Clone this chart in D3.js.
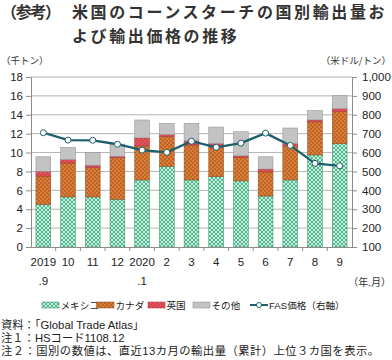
<!DOCTYPE html>
<html><head><meta charset="utf-8">
<script src="https://cdn.jsdelivr.net/npm/d3@7"></script>
<style>
body{margin:0;background:#fff;}
text{font-family:"Liberation Sans","Noto Sans CJK JP",sans-serif;}
.jp{font-family:"Noto Sans CJK JP","Liberation Sans",sans-serif;}
</style></head>
<body><svg id="c" width="392" height="360"></svg>
<script>
const categories = ["2019.9","10","11","12","2020.1","2","3","4","5","6","7","8","9"];
const labelLine1 = ["2019","10","11","12","2020","2","3","4","5","6","7","8","9"];
const labelLine2 = [".9","","","",".1","","","","","","","",""];
const mexico = [4.5, 5.3, 5.3, 5.05, 7.1, 8.55, 7.1, 7.45, 7.0, 5.4, 7.1, 9.75, 10.95];
const canada = [3.0, 3.6, 3.1, 4.4, 3.6, 3.15, 3.7, 3.05, 2.5, 2.55, 3.6, 3.5, 3.4];
const uk     = [0.5, 0.35, 0.25, 0.15, 0.85, 0.2, 0.45, 0.45, 0.15, 0.3, 0.25, 0.2, 0.3];
const other  = [1.55, 1.3, 1.35, 1.3, 1.9, 1.2, 1.85, 1.75, 2.55, 1.3, 1.65, 1.0, 1.4];
const fasPrice = [705, 666, 665, 644, 613, 601, 660, 628, 650, 703, 638, 543, 530];
const leftTicks = [0,2,4,6,8,10,12,14,16,18];
const rightTicks = [100,200,300,400,500,600,700,800,900,1000];
const seriesNames = ["メキシコ","カナダ","英国","その他"];

const svg = d3.select("#c");
const defs = svg.append("defs");
function pat(id, bg, draw){
  const p = defs.append("pattern").attr("id",id).attr("patternUnits","userSpaceOnUse").attr("width",4).attr("height",4);
  p.append("rect").attr("width",4).attr("height",4).attr("fill",bg);
  draw(p);
}
pat("pMex","#4cb88e",p=>{
  p.append("path").attr("d","M0,0 L2,2 L4,0 M0,4 L2,2 L4,4").attr("stroke","#dcf3e8").attr("stroke-width",0.9).attr("fill","none");
});
pat("pCan","#c4621f",p=>{
  p.append("circle").attr("cx",1).attr("cy",1).attr("r",0.7).attr("fill","#eeb27a");
  p.append("circle").attr("cx",3).attr("cy",3).attr("r",0.7).attr("fill","#eeb27a");
});
pat("pUK","#d9454e",p=>{
  p.append("circle").attr("cx",1).attr("cy",1).attr("r",0.6).attr("fill","#ee8d90");
  p.append("circle").attr("cx",3).attr("cy",3).attr("r",0.6).attr("fill","#ee8d90");
});
const fills = ["url(#pMex)","url(#pCan)","url(#pUK)","#c3c3c3"];
const strokes = ["#2f8a66","#8a4a1a","#a8303a","#8c8c8c"];

const L = 31, R = 352, T = 77, B = 247;
const x = d3.scaleBand().domain(categories).range([L,R]).paddingInner(0.4).paddingOuter(0.2);
const y = d3.scaleLinear().domain([0,18]).range([B,T]);
const y2 = d3.scaleLinear().domain([100,1000]).range([B,T]);

svg.append("g").selectAll("line").data(leftTicks.filter(d=>d>0)).join("line")
  .attr("x1",L).attr("x2",R).attr("y1",d=>y(d)).attr("y2",d=>y(d))
  .attr("stroke","#b5b5b5").attr("stroke-width",1);

const rows = categories.map((c,i)=>({cat:c, m:mexico[i], c:canada[i], u:uk[i], o:other[i]}));
const stack = d3.stack().keys(["m","c","u","o"])(rows);
stack.forEach((layer,k)=>{
  svg.append("g").selectAll("rect").data(layer).join("rect")
    .attr("x",d=>x(d.data.cat)).attr("width",x.bandwidth())
    .attr("y",d=>y(d[1])).attr("height",d=>y(d[0])-y(d[1]))
    .attr("fill",fills[k]).attr("stroke",strokes[k]).attr("stroke-width",0.5);
});

const axL = svg.append("g").attr("transform",`translate(${L},0)`)
  .call(d3.axisLeft(y).tickValues(leftTicks).tickSize(5).tickPadding(3).tickFormat(d3.format("d")));
const axR = svg.append("g").attr("transform",`translate(${R},0)`)
  .call(d3.axisRight(y2).tickValues(rightTicks).tickSize(5).tickPadding(5).tickFormat(d3.format(",")));
const axB = svg.append("g").attr("transform",`translate(0,${B})`)
  .call(d3.axisBottom(x).tickValues([]).tickSizeOuter(0));
[axL,axR,axB].forEach(a=>{
  a.selectAll(".domain").attr("stroke","#8c8c8c");
  a.selectAll(".tick line").attr("stroke","#8c8c8c");
  a.selectAll("text").attr("font-size",11.5).attr("fill","#222");
});
svg.append("g").selectAll("line").data(categories.slice(1)).join("line")
  .attr("x1",d=>x(d)-x.step()*x.paddingInner()/2).attr("x2",d=>x(d)-x.step()*x.paddingInner()/2)
  .attr("y1",B).attr("y2",B+4).attr("stroke","#8c8c8c");
axR.selectAll("text").attr("text-anchor","start");

const xl = svg.append("g");
xl.selectAll("text.l1").data(categories).join("text").attr("class","l1")
  .attr("x",d=>x(d)+x.bandwidth()/2).attr("y",266).attr("text-anchor","middle")
  .attr("font-size",11.5).attr("fill","#222").text((d,i)=>labelLine1[i]);
xl.selectAll("text.l2").data(categories).join("text").attr("class","l2")
  .attr("x",d=>x(d)+x.bandwidth()/2).attr("y",285).attr("text-anchor","middle")
  .attr("font-size",11.5).attr("fill","#222").text((d,i)=>labelLine2[i]);

const line = d3.line().x((d,i)=>x(categories[i])+x.bandwidth()/2).y(d=>y2(d));
svg.append("path").datum(fasPrice).attr("d",line).attr("fill","none")
  .attr("stroke","#1d5f6c").attr("stroke-width",2.3);
svg.append("g").selectAll("circle").data(fasPrice).join("circle")
  .attr("cx",(d,i)=>x(categories[i])+x.bandwidth()/2).attr("cy",d=>y2(d)).attr("r",3)
  .attr("fill","#fff").attr("stroke","#1d5f6c").attr("stroke-width",1);

svg.append("text").attr("class","jp").attr("x",1).attr("y",18).attr("font-size",16).attr("font-weight","bold").attr("fill","#333").attr("textLength",60).text("（参考）");
svg.append("text").attr("class","jp").attr("x",72).attr("y",18).attr("font-size",16).attr("font-weight","bold").attr("fill","#333").attr("letter-spacing",2.6).text("米国のコーンスターチの国別輸出量お");
svg.append("text").attr("class","jp").attr("x",72).attr("y",41.5).attr("font-size",16).attr("font-weight","bold").attr("fill","#333").attr("letter-spacing",2.6).text("よび輸出価格の推移");

svg.append("text").attr("class","jp").attr("x",1).attr("y",64).attr("font-size",9.5).attr("fill","#333").text("（千トン）");
svg.append("text").attr("class","jp").attr("x",391).attr("y",64).attr("text-anchor","end").attr("font-size",9.5).attr("fill","#333").text("（米ドル/トン）");
svg.append("text").attr("class","jp").attr("x",391).attr("y",286).attr("text-anchor","end").attr("font-size",10).attr("fill","#333").text("（年.月）");

const lg = svg.append("g");
const legX = [42, 97, 148, 193];
seriesNames.forEach((n,k)=>{
  lg.append("rect").attr("x",legX[k]).attr("y",302).attr("width",17).attr("height",6)
    .attr("fill",fills[k]).attr("stroke",strokes[k]).attr("stroke-width",0.5);
  lg.append("text").attr("class","jp").attr("x",legX[k]+18.5).attr("y",309).attr("font-size",9.6).attr("fill","#222").text(n);
});
lg.append("line").attr("x1",250).attr("x2",268).attr("y1",305).attr("y2",305).attr("stroke","#1d5f6c").attr("stroke-width",2);
lg.append("circle").attr("cx",259).attr("cy",305).attr("r",2.5).attr("fill","#fff").attr("stroke","#1d5f6c");
lg.append("text").attr("x",269).attr("y",309).attr("font-size",9.6).attr("fill","#222").text("FAS価格（右軸）");

const notes = ["資料：「Global Trade Atlas」","注１：HSコード1108.12","注２：国別の数値は、直近13カ月の輸出量（累計）上位３カ国を表示。"];
const noteLen = [null, null, 378];
svg.append("g").selectAll("text").data(notes).join("text")
  .attr("x",1).attr("y",(d,i)=>329+i*13).attr("font-size",11.3).attr("fill","#222")
  .each(function(d,i){ if(noteLen[i]) d3.select(this).attr("textLength",noteLen[i]).attr("lengthAdjust","spacing"); })
  .text(d=>d);
</script></body></html>
